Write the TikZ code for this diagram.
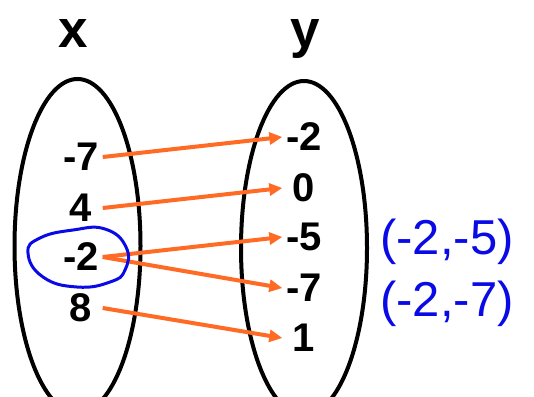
\documentclass[tikz,border=0pt]{standalone}
\usepackage{fontspec}
\setmainfont{Liberation Sans}
\usetikzlibrary{arrows.meta,shapes.geometric}
\definecolor{arrorange}{RGB}{255,106,36}
\definecolor{penblue}{RGB}{10,10,230}

\begin{document}
\begin{tikzpicture}[x=1pt,y=-1pt,every node/.style={inner sep=0pt},
  num/.style={font=\fontsize{40}{42}\selectfont\bfseries,minimum width=43pt},
  setname/.style={font=\fontsize{53}{55}\selectfont\bfseries,anchor=base},
  setbox/.style={draw,line width=4pt,ellipse,minimum width=126pt,minimum height=334pt},
  maparr/.style={draw=arrorange,line width=4pt,-{Triangle[length=13pt,width=12pt]}},
  pen/.style={penblue,font=\fontsize{49}{51}\selectfont}]
\useasboundingbox (0,0) rectangle (534,396);
\clip (0,0) rectangle (534,396);
% the two sets
\node[setbox] (setx) at (77.5,246) {};
\node[setbox] (sety) at (304,248) {};
\node[setname] (namex) at (73,47) {x};
\node[setname] (namey) at (305,47) {y};
% domain
\node[num] (lm7) at (81,157) {-7};
\node[num] (l4) at (81,208) {4};
\node[num] (lm2) at (81,257) {-2};
\node[num] (l8) at (81,308) {8};
% range
\node[num] (rm2) at (304,137) {-2};
\node[num] (r0) at (304,188) {0};
\node[num] (rm5) at (304,237) {-5};
\node[num] (rm7) at (304,288) {-7};
\node[num] (r1) at (304,338) {1};
% mapping
\draw[maparr] (lm7.east) -- (rm2.west);
\draw[maparr] (l4.east) -- (r0.west);
\draw[maparr] (lm2.east) -- (rm5.west);
\draw[maparr] (lm2.east) -- (rm7.west);
\draw[maparr] (l8.east) -- (r1.west);
% handwritten notes
\draw[penblue,line width=3pt] plot[smooth cycle,tension=0.8] coordinates {(105,229) (126,247) (125,270) (110,282) (77,287) (43,277) (28,253) (40,238) (73,230)};
\node[pen] (pair1) at (447,242) {(-2,-5)};
\node[pen] (pair2) at (447,304) {(-2,-7)};
\end{tikzpicture}
\end{document}
